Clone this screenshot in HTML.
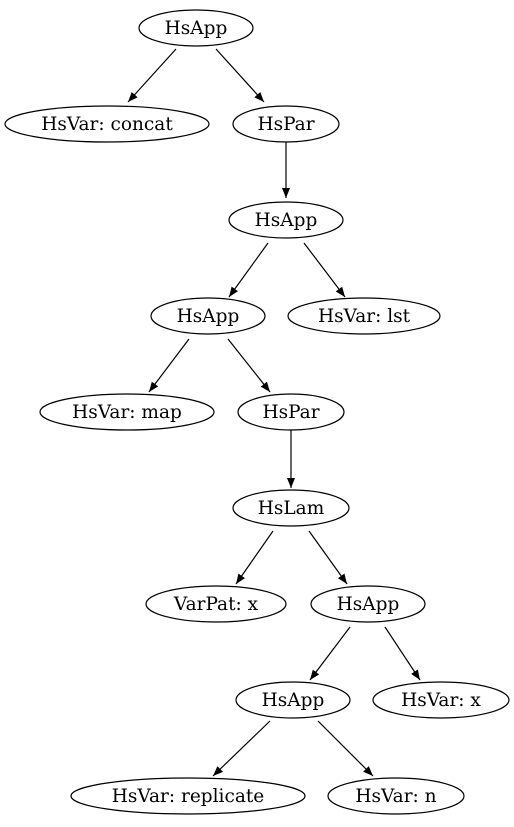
<!DOCTYPE html>
<html><head><meta charset="utf-8"><style>
html,body{margin:0;padding:0;background:#fff;}
svg{display:block;}
text{font-family:"DejaVu Serif",serif;font-size:18.5px;fill:#000;}
</style></head><body>
<svg width="514" height="827" viewBox="0 0 514 827" xmlns="http://www.w3.org/2000/svg">
<defs><marker id="a" markerWidth="10" markerHeight="8" refX="10" refY="4" orient="auto" markerUnits="userSpaceOnUse"><path d="M0,0 L10,4 L0,8 Z" fill="#000"/></marker></defs>
<g fill="none" stroke="#000" stroke-width="1.2">
<ellipse cx="196" cy="28" rx="57" ry="18"/>
<ellipse cx="107" cy="124" rx="102" ry="18"/>
<ellipse cx="286" cy="124" rx="53" ry="18"/>
<ellipse cx="286" cy="220" rx="57" ry="18"/>
<ellipse cx="208" cy="316" rx="57" ry="18"/>
<ellipse cx="364" cy="316" rx="76" ry="18"/>
<ellipse cx="127" cy="412" rx="87" ry="18"/>
<ellipse cx="291" cy="412" rx="53" ry="18"/>
<ellipse cx="291" cy="508" rx="58" ry="18"/>
<ellipse cx="216" cy="604" rx="70" ry="18"/>
<ellipse cx="368" cy="604" rx="57" ry="18"/>
<ellipse cx="293" cy="700" rx="57" ry="18"/>
<ellipse cx="441" cy="700" rx="68" ry="18"/>
<ellipse cx="188" cy="796" rx="117" ry="18"/>
<ellipse cx="396" cy="796" rx="68" ry="18"/>
</g>
<g stroke="#000" stroke-width="1.2" marker-end="url(#a)">
<line x1="176" y1="49" x2="128" y2="102"/>
<line x1="216" y1="49" x2="264" y2="102"/>
<line x1="286" y1="142" x2="286" y2="198"/>
<line x1="268" y1="243" x2="229" y2="297"/>
<line x1="304" y1="243" x2="345" y2="297"/>
<line x1="189" y1="339" x2="149" y2="392"/>
<line x1="228" y1="339" x2="270" y2="392"/>
<line x1="291" y1="430" x2="291" y2="488"/>
<line x1="273" y1="531" x2="236" y2="584"/>
<line x1="309" y1="531" x2="347" y2="584"/>
<line x1="350" y1="627" x2="310" y2="680"/>
<line x1="385" y1="627" x2="420" y2="680"/>
<line x1="270" y1="721" x2="213" y2="776"/>
<line x1="318" y1="721" x2="373" y2="776"/>
</g>
<g text-anchor="middle">
<text x="196" y="34">HsApp</text>
<text x="107" y="130">HsVar: concat</text>
<text x="286" y="130">HsPar</text>
<text x="286" y="226">HsApp</text>
<text x="208" y="322">HsApp</text>
<text x="364" y="322">HsVar: lst</text>
<text x="127" y="418">HsVar: map</text>
<text x="291" y="418">HsPar</text>
<text x="291" y="514">HsLam</text>
<text x="216" y="610">VarPat: x</text>
<text x="368" y="610">HsApp</text>
<text x="293" y="706">HsApp</text>
<text x="441" y="706">HsVar: x</text>
<text x="188" y="802">HsVar: replicate</text>
<text x="396" y="802">HsVar: n</text>
</g>
</svg>
</body></html>
